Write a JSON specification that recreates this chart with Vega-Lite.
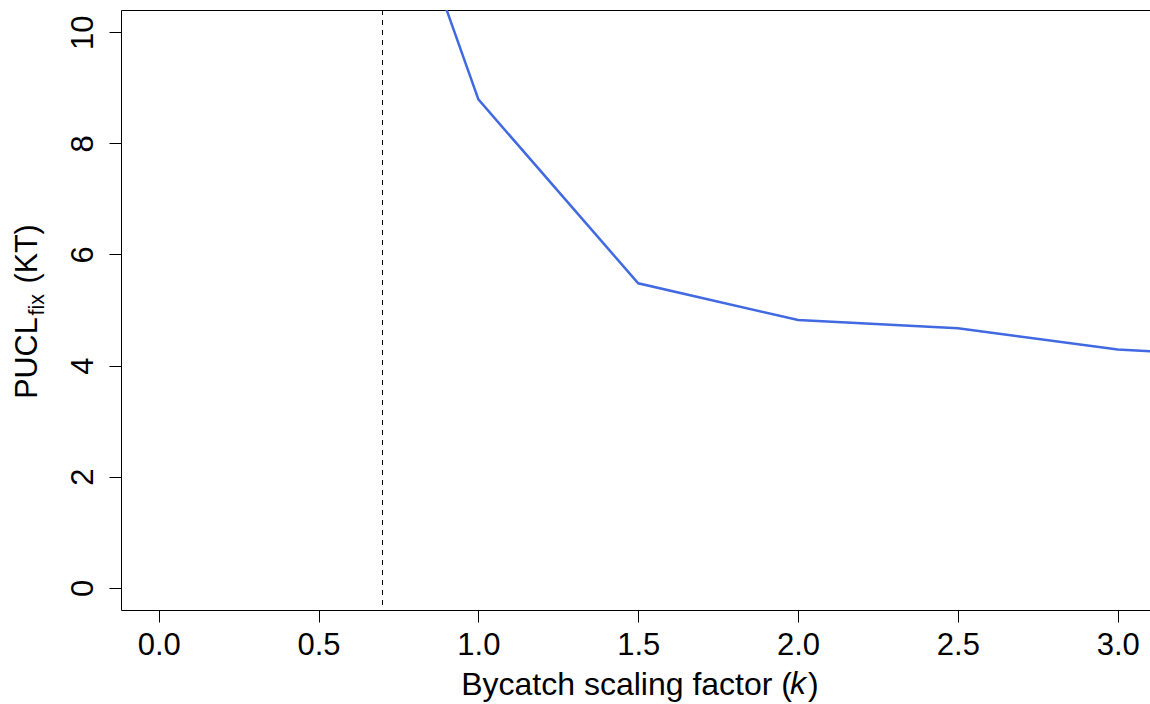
{
  "$schema": "https://vega.github.io/schema/vega-lite/v6.json",
  "width": 1029,
  "height": 600,
  "autosize": {"type": "none"},
  "padding": {"left": 121, "top": 10, "right": 0, "bottom": 94},
  "background": "white",
  "title": {
    "text": "k",
    "orient": "bottom",
    "anchor": "start",
    "frame": "group",
    "font": "Liberation Sans",
    "fontStyle": "italic",
    "fontWeight": "normal",
    "fontSize": 32,
    "color": "black",
    "baseline": "alphabetic",
    "offset": 0,
    "dx": 669,
    "dy": -6
  },
  "config": {
    "view": {"stroke": null},
    "font": "Liberation Sans",
    "axis": {
      "grid": false,
      "domainColor": "black",
      "domainWidth": 1,
      "tickColor": "black",
      "tickWidth": 1,
      "tickSize": 12,
      "labelColor": "black",
      "labelFont": "Liberation Sans",
      "labelFontSize": 31,
      "titleColor": "black",
      "titleFont": "Liberation Sans",
      "titleFontWeight": "normal",
      "labelOverlap": false,
      "labelFlush": false
    }
  },
  "layer": [
    {
      "data": {
        "values": [
          {"k": 0.5, "pucl": 16.9},
          {"k": 1.0, "pucl": 8.79},
          {"k": 1.5, "pucl": 5.48},
          {"k": 2.0, "pucl": 4.82},
          {"k": 2.5, "pucl": 4.67},
          {"k": 3.0, "pucl": 4.29},
          {"k": 3.5, "pucl": 4.14}
        ]
      },
      "mark": {"type": "line", "color": "#4169E1", "strokeWidth": 2.5, "clip": true},
      "encoding": {
        "x": {
          "field": "k",
          "type": "quantitative",
          "scale": {"domain": [-0.118, 3.101], "nice": false, "zero": false},
          "axis": {
            "orient": "bottom",
            "values": [0, 0.5, 1, 1.5, 2, 2.5, 3],
            "format": ".1f",
            "labelBaseline": "alphabetic",
            "labelPadding": 32,
            "title": "Bycatch scaling factor (\u2002)",
            "titleFontSize": 32,
            "titleBaseline": "alphabetic",
            "titleAlign": "left",
            "titleX": 339.7,
            "titleY": 84
          }
        },
        "y": {
          "field": "pucl",
          "type": "quantitative",
          "scale": {"domain": [-0.4, 10.4], "nice": false, "zero": false},
          "axis": {
            "orient": "left",
            "values": [0, 2, 4, 6, 8, 10],
            "labelAngle": 270,
            "labelAlign": "center",
            "labelBaseline": "alphabetic",
            "labelPadding": 17,
            "title": "PUCL\u00a0\u00a0\u00a0\u00a0(KT)",
            "titleFontSize": 30.5,
            "titleAngle": 270,
            "titleAlign": "center",
            "titleBaseline": "alphabetic",
            "titleX": -84.3,
            "titleY": 301
          }
        }
      }
    },
    {
      "data": {"values": [{"k": 0.7}]},
      "mark": {"type": "rule", "color": "black", "strokeWidth": 1, "strokeDash": [5, 5]},
      "encoding": {
        "x": {
          "field": "k",
          "type": "quantitative",
          "axis": {
            "orient": "top",
            "labels": false,
            "ticks": false,
            "domain": true,
            "title": "fix",
            "titleFontSize": 21.5,
            "titleAngle": 270,
            "titleAlign": "left",
            "titleBaseline": "alphabetic",
            "titleX": -78,
            "titleY": 305
          }
        }
      }
    }
  ],
  "resolve": {"axis": {"x": "independent", "y": "independent"}}
}
